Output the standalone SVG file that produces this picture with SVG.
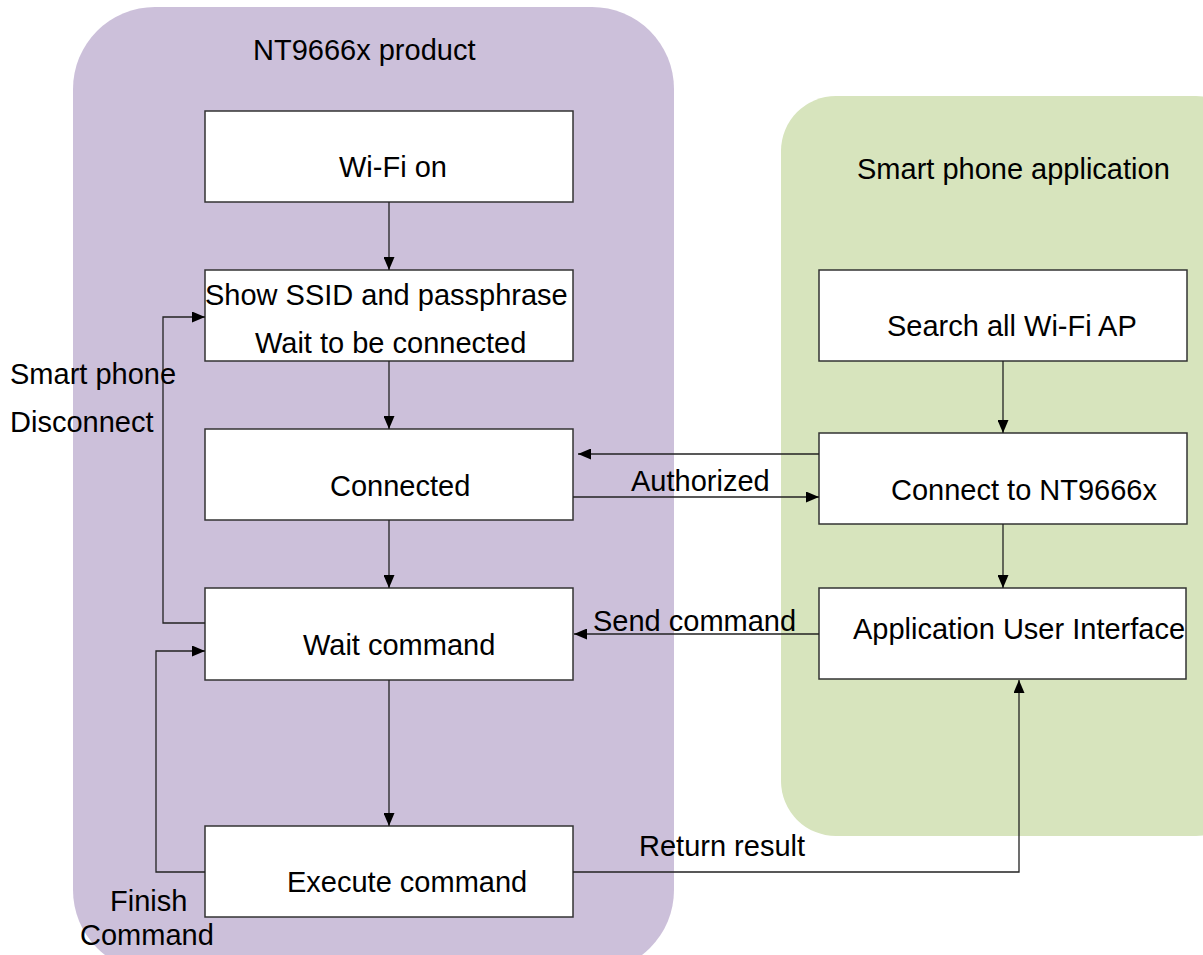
<svg xmlns="http://www.w3.org/2000/svg" width="1203" height="955" viewBox="0 0 1203 955">
<defs>
<marker id="arr" markerUnits="userSpaceOnUse" markerWidth="13" markerHeight="11" refX="13" refY="5.5" orient="auto">
<path d="M0,0 L13,5.5 L0,11 z" fill="#000"/>
</marker>
<style>
.box{fill:#fff;stroke:#333;stroke-width:1.5}
.t{font-family:"Liberation Sans",Arial,sans-serif;font-size:29px;fill:#000}
.c{fill:none;stroke:#222;stroke-width:1.3}
.ca{fill:none;stroke:#222;stroke-width:1.3;marker-end:url(#arr)}
</style>
</defs>
<rect width="1203" height="955" fill="#fff"/>
<g id="product">
<rect x="73" y="7" width="601" height="965" rx="82" ry="82" fill="#CCC0DA"/>
<text class="t" x="253" y="60">NT9666x product</text>
</g>
<g id="phone">
<rect x="781" y="96" width="470" height="740" rx="55" ry="55" fill="#D7E4BD"/>
<text class="t" x="857" y="179">Smart phone application</text>
</g>
<g id="wifi-on">
<rect class="box" x="205" y="111" width="368" height="91"/>
<text class="t" x="339" y="177">Wi-Fi on</text>
</g>
<g id="show-ssid">
<rect class="box" x="205" y="270" width="368" height="91"/>
<text class="t" x="205" y="305">Show SSID and passphrase</text>
<text class="t" x="255" y="353">Wait to be connected</text>
</g>
<g id="connected">
<rect class="box" x="205" y="429" width="368" height="91"/>
<text class="t" x="330" y="496">Connected</text>
</g>
<g id="wait-command">
<rect class="box" x="205" y="588" width="368" height="92"/>
<text class="t" x="303" y="655">Wait command</text>
</g>
<g id="execute-command">
<rect class="box" x="205" y="826" width="368" height="91"/>
<text class="t" x="287" y="892">Execute command</text>
</g>
<g id="search">
<rect class="box" x="819" y="270" width="368" height="91"/>
<text class="t" x="887" y="336">Search all Wi-Fi AP</text>
</g>
<g id="connect">
<rect class="box" x="819" y="433" width="368" height="91"/>
<text class="t" x="891" y="500">Connect to NT9666x</text>
</g>
<g id="app-ui">
<rect class="box" x="819" y="588" width="367" height="91"/>
<text class="t" x="853" y="639">Application User Interface</text>
</g>
<g id="connectors">
<line class="ca" x1="389" y1="202" x2="389" y2="270"/>
<line class="ca" x1="389" y1="361" x2="389" y2="429"/>
<line class="ca" x1="389" y1="520" x2="389" y2="588"/>
<line class="ca" x1="389" y1="680" x2="389" y2="826"/>
<line class="ca" x1="1003" y1="361" x2="1003" y2="433"/>
<line class="ca" x1="1003" y1="524" x2="1003" y2="588"/>
<line class="ca" x1="819" y1="454" x2="578" y2="454"/>
<line class="ca" x1="573" y1="497" x2="819" y2="497"/>
<line class="ca" x1="819" y1="634" x2="574" y2="634"/>
<polyline class="ca" points="205,623 163,623 163,317 205,317"/>
<polyline class="ca" points="205,872 156,872 156,651 205,651"/>
<polyline class="ca" points="573,872 1019,872 1019,680"/>
<text class="t" x="631" y="491">Authorized</text>
<text class="t" x="593" y="631">Send command</text>
<text class="t" x="639" y="856">Return result</text>
<text class="t" x="10" y="384">Smart phone</text>
<text class="t" x="10" y="432">Disconnect</text>
<text class="t" x="110" y="911">Finish</text>
<text class="t" x="80" y="945">Command</text>
</g>
</svg>
